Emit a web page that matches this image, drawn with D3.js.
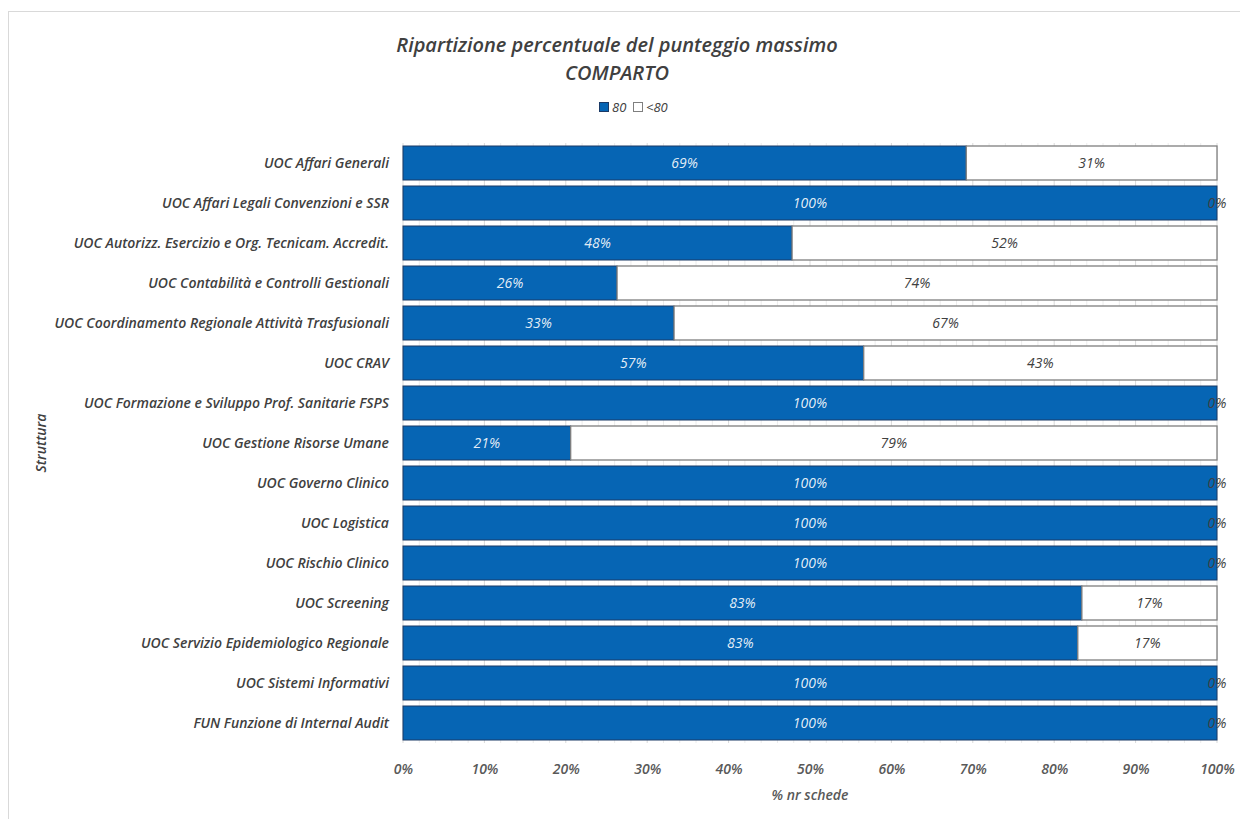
<!DOCTYPE html>
<html><head><meta charset="utf-8">
<script src="https://cdn.jsdelivr.net/npm/d3@7"></script>
<style>
html,body{margin:0;padding:0;background:#fff;}
svg{display:block;font-family:"Open Sans",sans-serif;}
</style></head>
<body>
<svg id="chart" width="1240" height="819"></svg>
<script>
const categories = [
  "UOC Affari Generali",
  "UOC Affari Legali Convenzioni e SSR",
  "UOC Autorizz. Esercizio e Org. Tecnicam. Accredit.",
  "UOC Contabilità e Controlli Gestionali",
  "UOC Coordinamento Regionale Attività Trasfusionali",
  "UOC CRAV",
  "UOC Formazione e Sviluppo Prof. Sanitarie FSPS",
  "UOC Gestione Risorse Umane",
  "UOC Governo Clinico",
  "UOC Logistica",
  "UOC Rischio Clinico",
  "UOC Screening",
  "UOC Servizio Epidemiologico Regionale",
  "UOC Sistemi Informativi",
  "FUN Funzione di Internal Audit"
];
const series80 = [0.692, 1.0, 0.478, 0.263, 0.333, 0.566, 1.0, 0.206, 1.0, 1.0, 1.0, 0.834, 0.829, 1.0, 1.0];
const seriesLt80 = [0.308, 0.0, 0.522, 0.737, 0.667, 0.434, 0.0, 0.794, 0.0, 0.0, 0.0, 0.166, 0.171, 0.0, 0.0];
const seriesNames = ["80", "<80"];
const xTicks = [0, 0.1, 0.2, 0.3, 0.4, 0.5, 0.6, 0.7, 0.8, 0.9, 1.0];
const titleLines = ["Ripartizione percentuale del punteggio massimo", "COMPARTO"];
const xAxisTitle = "% nr schede";
const yAxisTitle = "Struttura";

const svg = d3.select("#chart");
const W = 1240, H = 819;
const m = {left: 403, right: 23, top: 143, bottom: 70};
const pw = W - m.left - m.right;
const ph = H - m.top - m.bottom - 6;

const blue = "#0665b4", blueStroke = "#1b3a66", greyStroke = "#7f7f7f";
const txt = "#404040";

// outer frame
svg.append("rect").attr("x", 8.5).attr("y", 11.5).attr("width", W + 10).attr("height", H + 10)
  .attr("fill", "none").attr("stroke", "#d9d9d9").attr("stroke-width", 1);

const x = d3.scaleLinear().domain([0, 1]).range([m.left, m.left + pw]);
const y = d3.scaleBand().domain(categories).range([m.top, m.top + ph]).paddingInner(0.15).paddingOuter(0.075);

const g = svg.append("g");

// minor gridlines (2%)
const minor = d3.range(0, 51).map(i => i / 50).filter(v => Math.round(v * 50) % 5 !== 0);
g.selectAll("line.minor").data(minor).join("line")
  .attr("x1", d => x(d)).attr("x2", d => x(d))
  .attr("y1", m.top).attr("y2", m.top + ph)
  .attr("stroke", "#ececec").attr("stroke-width", 1);
g.selectAll("line.major").data(xTicks).join("line")
  .attr("x1", d => x(d)).attr("x2", d => x(d))
  .attr("y1", m.top).attr("y2", m.top + ph)
  .attr("stroke", "#d9d9d9").attr("stroke-width", 1);

// stacked data
const rows = categories.map((c, i) => ({cat: c, a: series80[i], b: seriesLt80[i]}));
const stack = d3.stack().keys(["a", "b"])(rows);

stack.forEach((layer, li) => {
  g.selectAll(null).data(layer).join("rect")
    .attr("x", d => x(d[0]))
    .attr("y", d => y(d.data.cat))
    .attr("width", d => Math.max(0, x(d[1]) - x(d[0])))
    .attr("height", y.bandwidth())
    .attr("fill", li === 0 ? blue : "#fff")
    .attr("stroke", li === 0 ? blueStroke : greyStroke)
    .attr("stroke-width", li === 0 ? 1 : 1.3);
});

const fmt = d3.format(".0%");
stack.forEach((layer, li) => {
  g.selectAll(null).data(layer).join("text")
    .attr("x", d => x((d[0] + d[1]) / 2))
    .attr("y", d => y(d.data.cat) + y.bandwidth() / 2)
    .attr("dy", "0.35em")
    .attr("text-anchor", "middle")
    .attr("font-size", 14)
    .attr("font-style", "italic")
    .attr("font-weight", 500)
    .attr("fill", li === 0 ? "#ffffff" : txt)
    .attr("fill-opacity", li === 0 ? 0.9 : 1)
    .text(d => fmt(d[1] - d[0]));
});

// category labels
g.selectAll("text.cat").data(categories).join("text")
  .attr("x", m.left - 14)
  .attr("y", d => y(d) + y.bandwidth() / 2)
  .attr("dy", "0.35em")
  .attr("text-anchor", "end")
  .attr("font-size", 14)
  .attr("font-style", "italic")
  .attr("font-weight", 600)
  .attr("fill", txt)
  .text(d => d);

// x axis
const xAxis = d3.axisBottom(x).tickValues(xTicks).tickFormat(d3.format(".0%")).tickSize(0).tickPadding(19);
const ax = svg.append("g").attr("transform", `translate(0,${m.top + ph + 2})`).call(xAxis);
ax.select(".domain").remove();
ax.selectAll("text").attr("font-size", 14).attr("font-style", "italic").attr("font-weight", 600)
  .attr("fill", "#595959").attr("font-family", "Open Sans, sans-serif");

svg.append("text").attr("x", x(0.5)).attr("y", 800)
  .attr("text-anchor", "middle").attr("font-size", 14).attr("font-style", "italic").attr("font-weight", 600)
  .attr("fill", "#595959").text(xAxisTitle);

svg.append("text").attr("transform", `translate(46,${m.top + ph / 2}) rotate(-90)`)
  .attr("text-anchor", "middle").attr("font-size", 14).attr("font-style", "italic").attr("font-weight", 600)
  .attr("fill", txt).text(yAxisTitle);

// title
svg.selectAll("text.title").data(titleLines).join("text")
  .attr("x", 617).attr("y", (d, i) => 52 + i * 28)
  .attr("text-anchor", "middle").attr("font-size", 20).attr("font-style", "italic").attr("font-weight", 600)
  .attr("fill", txt).text(d => d);

// legend
const leg = svg.append("g").attr("transform", "translate(599,102)");
const legItems = [{n: seriesNames[0], f: blue, s: blueStroke, x: 0}, {n: seriesNames[1], f: "#fff", s: "#7f7f7f", x: 34}];
legItems.forEach(it => {
  leg.append("rect").attr("x", it.x + 0.5).attr("y", 0.5).attr("width", 9).attr("height", 9)
    .attr("fill", it.f).attr("stroke", it.s);
  leg.append("text").attr("x", it.x + 13).attr("y", 5).attr("dy", "0.35em")
    .attr("font-size", 13).attr("font-style", "italic").attr("fill", txt).text(it.n);
});
</script>
</body></html>
